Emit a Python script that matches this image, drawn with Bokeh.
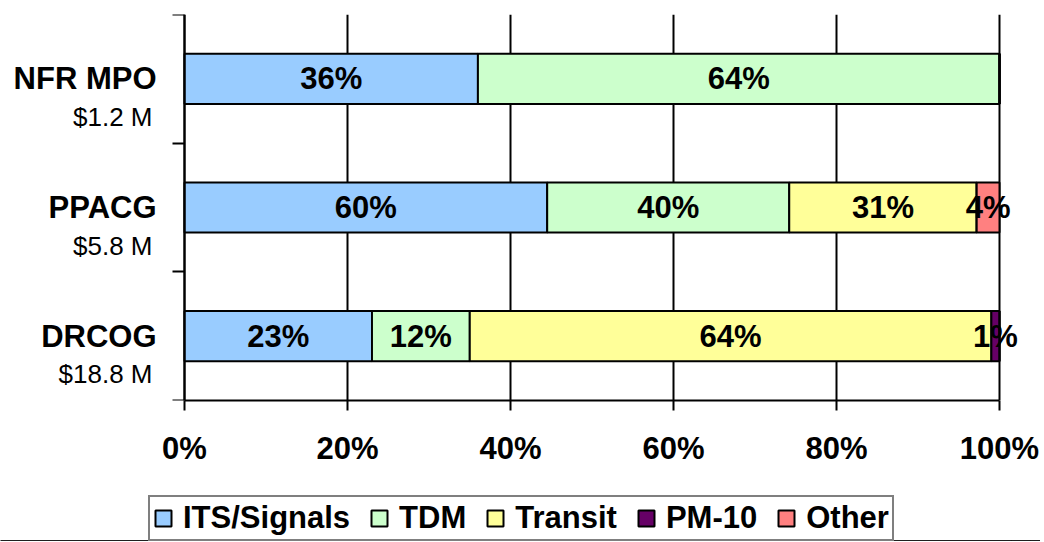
from bokeh.plotting import figure
from bokeh.layouts import column
from bokeh.models import (ColumnDataSource, FixedTicker, Legend, LegendItem, Range1d, Grid)
from bokeh.core.properties import value
from bokeh.embed import file_html
from bokeh.resources import INLINE

# ---- data ----
categories = ["DRCOG", "PPACG", "NFR MPO"]          # bottom to top
budgets = ["$18.8 M", "$5.8 M", "$1.2 M"]
series = ["ITS/Signals", "TDM", "Transit", "PM-10", "Other"]
colors = ["#99CCFF", "#CCFFCC", "#FFFF99", "#660066", "#FF8080"]
its_signals = [23.0, 44.5, 36.0]
tdm = [12.0, 29.7, 64.0]
transit = [64.0, 23.0, 0.0]
pm10 = [1.0, 0.0, 0.0]
other = [0.0, 2.8, 0.0]
its_labels = ["23%", "60%", "36%"]
tdm_labels = ["12%", "40%", "64%"]
transit_labels = ["64%", "31%", ""]
pm10_labels = ["1%", "", ""]
other_labels = ["", "4%", ""]
x_ticks = [0, 20, 40, 60, 80, 100]
x_tick_labels = ["0%", "20%", "40%", "60%", "80%", "100%"]

FONT = "Liberation Sans"
values = [its_signals, tdm, transit, pm10, other]
labels = [its_labels, tdm_labels, transit_labels, pm10_labels, other_labels]
ypos = [i + 0.5 for i in range(len(categories))]

src = ColumnDataSource({"y": ypos, **{s: v for s, v in zip(series, values)}})

p = figure(width=1040, height=493,
           x_range=Range1d(-22.58, 105.03), y_range=Range1d(0, 3),
           output_backend="svg", toolbar_location=None,
           min_border_left=0, min_border_right=0, min_border_top=14,
           min_border_bottom=93)
p.outline_line_color = None
p.background_fill_color = "white"

rends = p.hbar_stack(series, y="y", height=0.39, color=colors, source=src,
                     line_color="black", line_width=2)

# bar labels
tx, ty, tt = [], [], []
for ci in range(len(categories)):
    left = 0.0
    for si in range(len(series)):
        w = values[si][ci]
        if labels[si][ci]:
            tx.append(left + w / 2.0)
            ty.append(ypos[ci])
            tt.append(labels[si][ci])
        left += w
p.text(x=tx, y=ty, text=tt, text_align="center", text_baseline="middle",
       text_font=value(FONT), text_font_style="bold", text_font_size="31px",
       text_color="black")

# category labels (left of the value axis)
p.text(x=[0] * len(categories), y=ypos, text=categories, x_offset=-28,
       text_align="right", text_baseline="middle",
       text_font=value(FONT), text_font_style="bold", text_font_size="31px",
       text_color="black")
p.text(x=[0] * len(categories), y=ypos, text=budgets, x_offset=-32, y_offset=38,
       text_align="right", text_baseline="middle",
       text_font=value(FONT), text_font_size="26px", text_color="black")

# grid
p.xgrid.ticker = FixedTicker(ticks=x_ticks)
p.xgrid.grid_line_color = "black"
p.xgrid.grid_line_width = 2
p.xgrid.bounds = (0, 100)
p.ygrid.grid_line_color = None

# x axis
xa = p.xaxis[0]
xa.bounds = (0, 100)
xa.ticker = FixedTicker(ticks=x_ticks)
xa.major_label_overrides = {t: l for t, l in zip(x_ticks, x_tick_labels)}
xa.major_label_text_font = FONT
xa.major_label_text_font_style = "bold"
xa.major_label_text_font_size = "31px"
xa.major_label_text_color = "black"
xa.major_label_standoff = 20
xa.major_tick_out = 10
xa.major_tick_in = 0
xa.minor_tick_line_color = None
xa.axis_line_width = 2
xa.major_tick_line_width = 2
xa.axis_line_color = "black"

# y axis, fixed at x = 0
ya = p.yaxis[0]
ya.fixed_location = 0
ya.ticker = FixedTicker(ticks=[0, 1, 2, 3])
ya.major_label_text_font_size = "0px"
ya.major_label_text_color = None
ya.major_tick_out = 12
ya.major_tick_in = 0
ya.minor_tick_line_color = None
ya.axis_line_width = 2
ya.major_tick_line_width = 2
ya.axis_line_color = "black"

# legend in its own strip below the chart (its bars sit outside the strip's view)
lg = figure(width=1040, height=48, x_range=Range1d(0, 100), y_range=Range1d(10, 11),
            x_axis_type=None, y_axis_type=None,
            output_backend="svg", toolbar_location=None,
            min_border_left=0, min_border_right=0, min_border_top=0,
            min_border_bottom=0)
lg.outline_line_color = None
for g in lg.select(type=Grid):
    g.visible = False
proxies = lg.hbar_stack(series, y="y", height=0.39, color=colors, source=src,
                        line_color="black", line_width=2)
legend = Legend(items=[LegendItem(label=s, renderers=[r]) for s, r in zip(series, proxies)],
                orientation="horizontal", location=(148, 0),
                glyph_width=20, glyph_height=20, label_standoff=10, spacing=19,
                padding=3, margin=0,
                label_text_font=FONT, label_text_font_style="bold",
                label_text_font_size="31px", label_text_color="black",
                label_height=32,
                border_line_color="black", border_line_width=2,
                background_fill_alpha=1.0)
lg.add_layout(legend, "center")

open("out.html", "w").write(file_html(column(p, lg, spacing=0), INLINE))
